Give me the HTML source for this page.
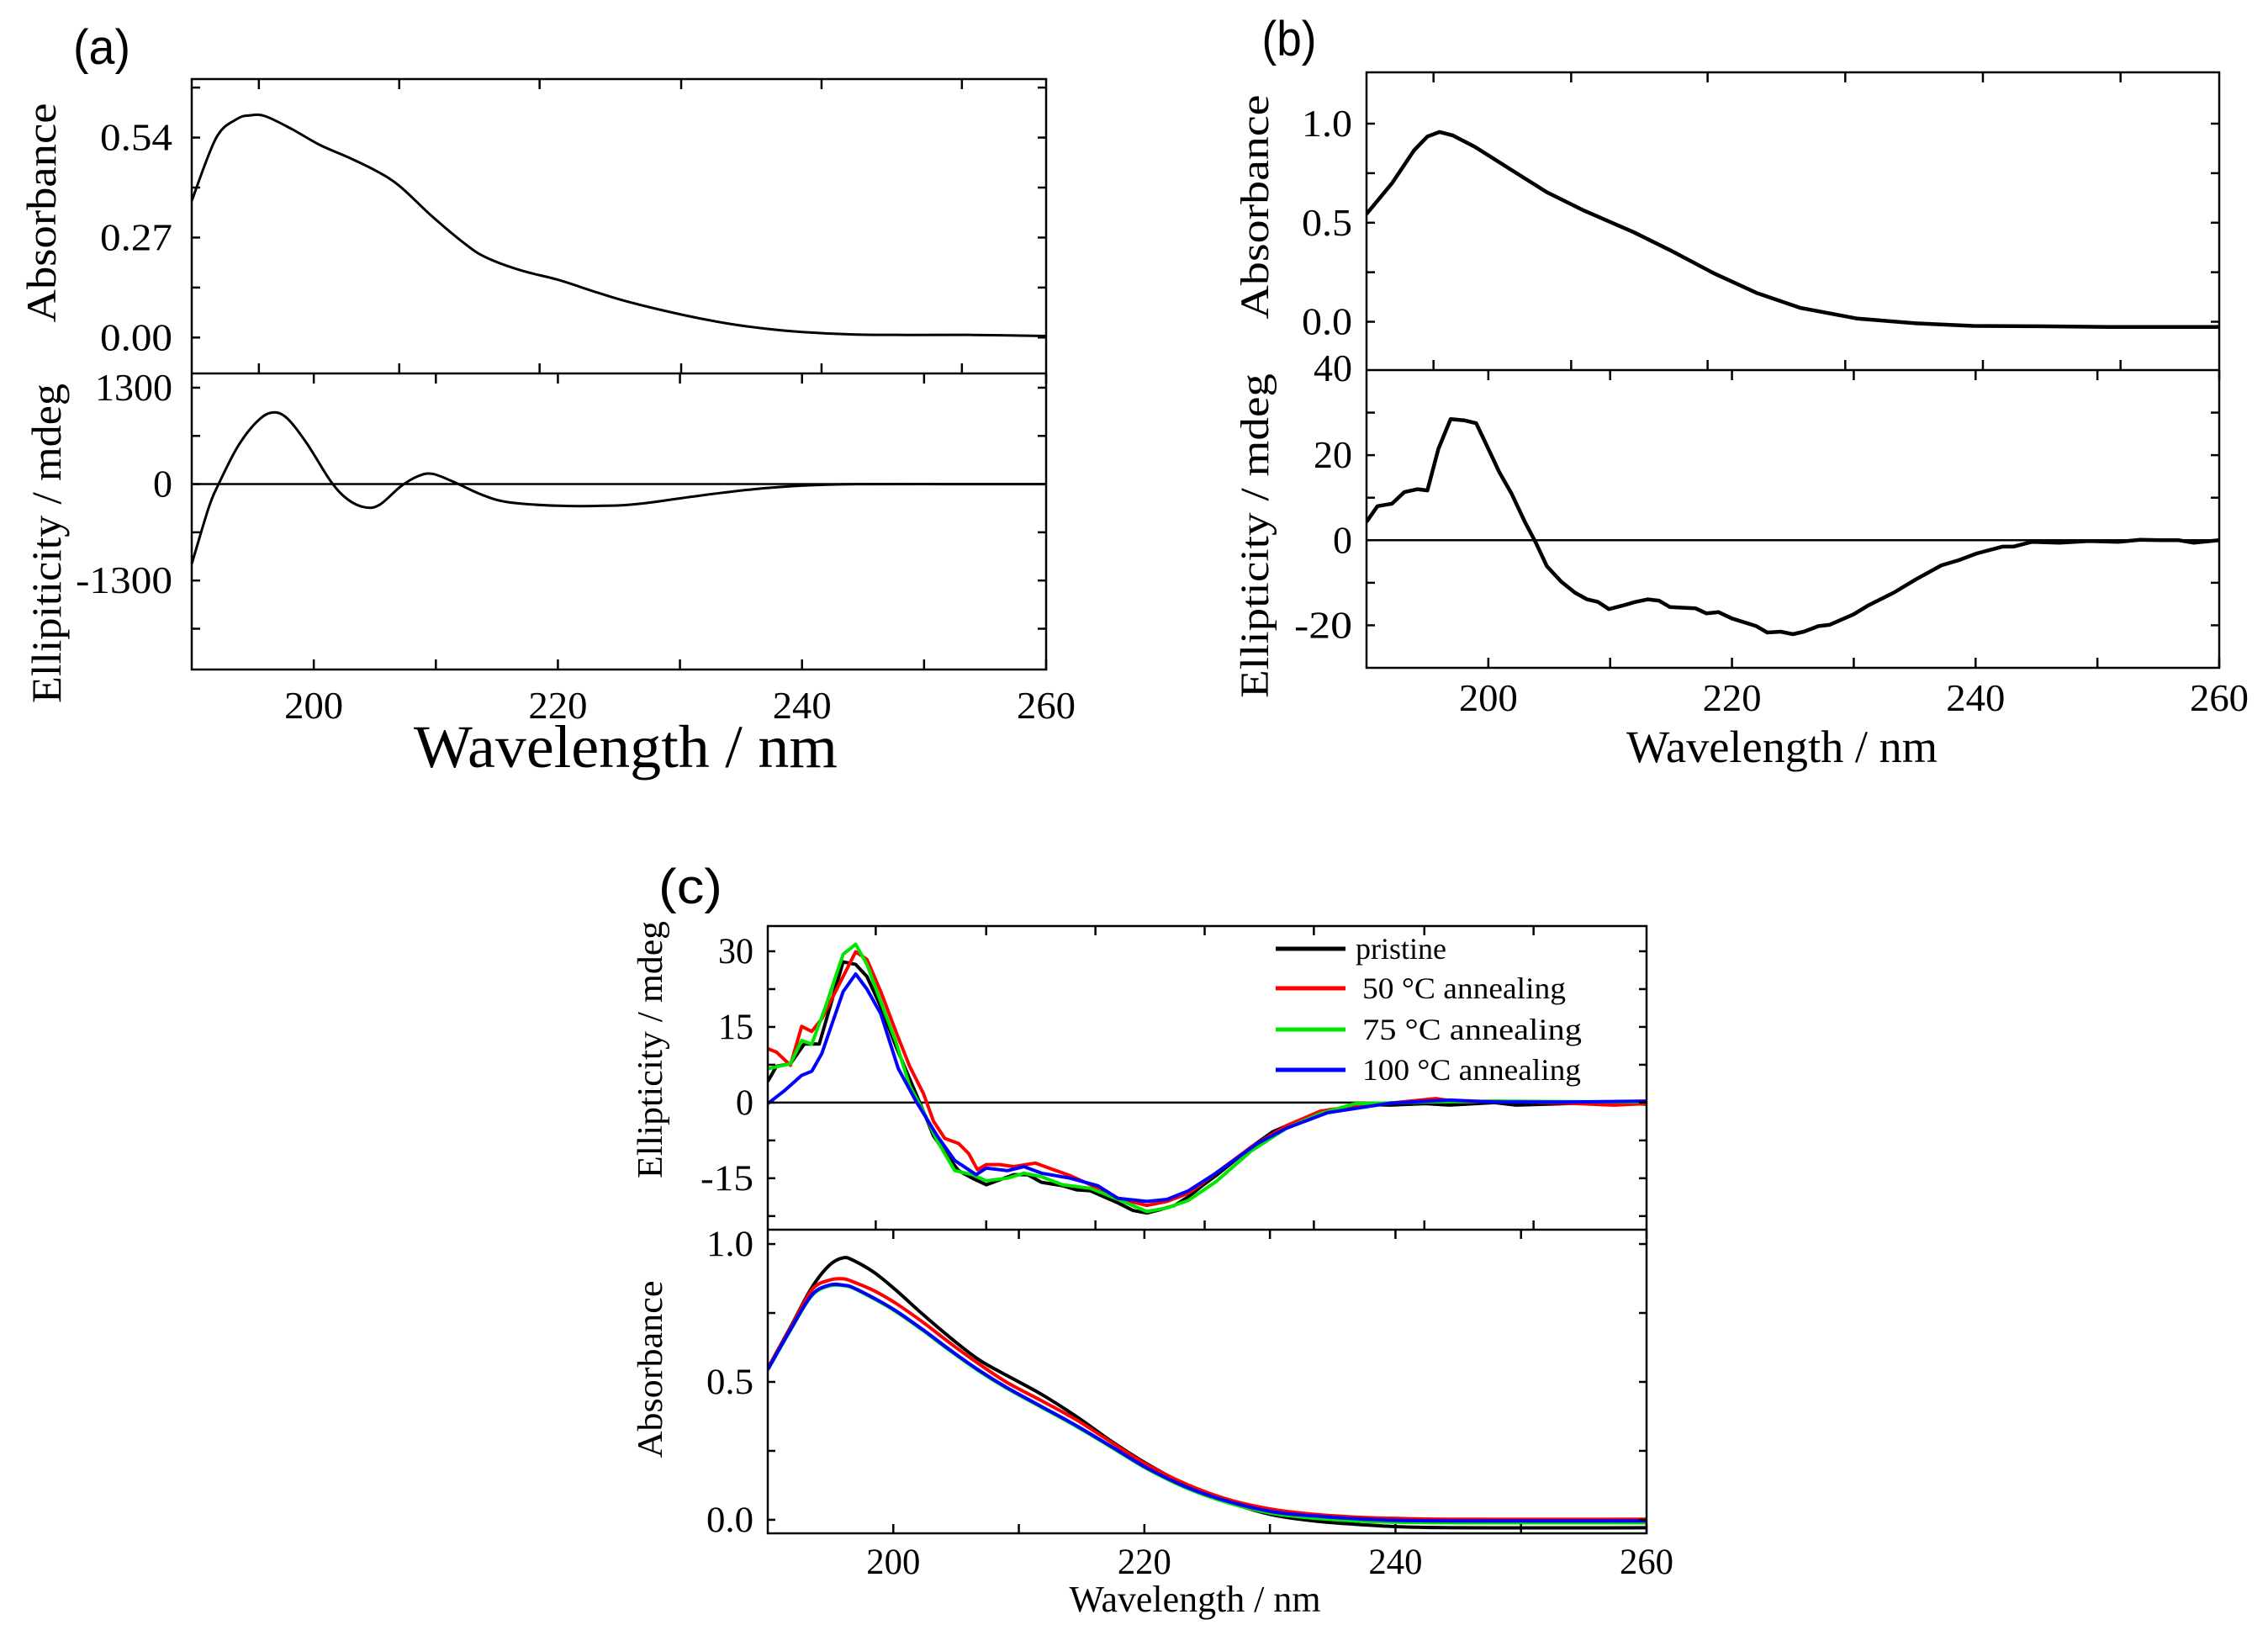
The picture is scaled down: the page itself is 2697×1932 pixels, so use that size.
<!DOCTYPE html>
<html><head><meta charset="utf-8"><style>
html,body{margin:0;padding:0;background:#fff;overflow:hidden;}
svg{display:block;}
</style></head><body>
<svg id="fig" xmlns="http://www.w3.org/2000/svg" width="2697" height="1932" viewBox="0 0 2697 1932"></svg>
<script>
// ---------- data ----------
const aAbsWl=[190,192,193.7,194.8,196,198.2,200.5,202.8,205,207,209.7,212.5,214.2,217,220,222.9,225.7,230,233.7,237,240,244.5,248.6,254,260];
const aAbsVal=[0.369,0.539,0.59,0.60,0.598,0.563,0.52,0.487,0.452,0.41,0.327,0.25,0.215,0.181,0.156,0.125,0.097,0.063,0.039,0.024,0.015,0.008,0.007,0.007,0.004];
const aCdWl=[190,191.4,192.2,193.7,195.1,196.4,197.7,199.4,201.4,202.8,204.2,205.4,207.1,208.5,209.7,211.4,213.7,215.9,220,224,226.8,231.4,236,240,244.5,252,260];
const aCdVal=[-1077,-313,0,487,800,959,904,556,35,-209,-313,-278,-35,104,139,35,-139,-243,-292,-292,-264,-160,-70,-21,0,0,0];

const bAbsWl=[190,192.1,193.9,195,196,197.1,198.9,201.9,204.8,207.8,211.9,214.9,218.5,222,225.6,230.3,235.1,239.8,245.2,251.1,260];
const bAbsVal=[0.544,0.70,0.865,0.935,0.958,0.94,0.883,0.766,0.654,0.5625,0.453,0.362,0.245,0.146,0.070,0.016,-0.008,-0.021,-0.023,-0.026,-0.026];
const bCdWl=[190,190.9,192.1,193.1,194.2,195,195.9,196.9,198,199,200.1,200.9,201.9,203,203.9,204.8,206,207.1,208.1,209,209.9,211.1,212.1,213.1,214,214.9,217,217.9,218.9,220,222,222.9,224,225,225.9,227.1,228,230,231.2,233.3,235.1,237.2,238.6,240.1,242.2,243.1,244.6,246.9,249.3,251.7,253.5,255.2,256.7,257.9,260];
const bCdVal=[4.3,8.0,8.6,11.3,12.0,11.7,21.5,28.5,28.2,27.5,20.9,16.0,11.0,4.3,-0.6,-6.1,-9.8,-12.3,-13.9,-14.5,-16.2,-15.3,-14.5,-13.9,-14.2,-15.7,-16.0,-17.2,-16.9,-18.4,-20.2,-21.7,-21.5,-22.1,-21.5,-20.2,-19.9,-17.4,-15.3,-12.3,-9.2,-5.9,-4.7,-3.1,-1.5,-1.5,-0.4,-0.6,-0.2,-0.4,0.1,0,0,-0.6,0];

const cCdBlackWl=[190,190.7,191.8,192.9,194.1,196,197,197.9,199,200.2,201.3,202.4,203.2,204.3,205.2,206.3,207.4,208.5,209.6,210.7,211.8,213.5,214.6,215.7,216.8,217.9,219.1,220.2,221.3,222.4,223.5,224.6,225.7,226.8,228.5,230.2,231.8,233.5,234.6,236.3,238,239.6,242.4,244.3,247.9,249.6,253.5,256.3,260];
const cCdBlackVal=[4.2,7.2,7.7,11.6,11.6,27.9,27.4,25,19,11.2,4.7,-1.7,-6.6,-10.6,-13.5,-15,-16.3,-15.3,-14.3,-14.3,-15.8,-16.5,-17.3,-17.5,-18.7,-19.9,-21.4,-21.9,-21.2,-20.4,-18.7,-16.5,-14.5,-12.3,-8.8,-5.8,-4.1,-2.5,-1.5,-0.9,-0.4,-0.5,-0.2,-0.5,0,-0.5,-0.2,0,-0.3];
const cCdRedWl=[190,190.7,191.8,192.7,193.5,194.3,196,197,197.9,199,200.2,201.3,202.4,203.2,204.1,205.2,206,206.7,207.4,208.5,209.6,211.3,212.4,214.1,215.7,217.9,220.2,221.8,223.5,225.7,228.5,231.3,234,236.8,239.6,243.2,245.2,247.9,253.5,257.4,260];
const cCdRedVal=[10.7,10,7.4,15.1,14.1,16.6,25,29.9,28.4,22,14.1,7.2,1.8,-3.7,-7.1,-8.1,-10.1,-13.3,-12.3,-12.3,-12.7,-12.0,-13.0,-14.5,-16.3,-19,-20.4,-19.6,-18,-14,-8.8,-4.6,-1.7,-0.7,-0.1,0.8,0.1,0.3,-0.1,-0.5,-0.2];
const cCdGreenWl=[190,191.8,192.7,193.5,194.6,196,197,197.9,199,200.2,201.3,202.4,203.5,204.9,206.3,207.4,209.1,210.4,211.8,213.5,215.7,217.9,220.2,221.8,223.5,225.7,228.5,231.3,234,236.8,242.4,247.9,260];
const cCdGreenVal=[6.7,7.7,12.3,11.6,19,29.4,31.4,27.4,20,12.1,3.3,-1.7,-7.6,-13.5,-14.3,-15.5,-15,-14,-14.7,-16.3,-17,-19.2,-21.6,-20.9,-19.4,-15.7,-9.6,-5.1,-2.2,-0.2,0.1,0.3,0.1];
const cCdBlueWl=[190,191.3,192.7,193.5,194.3,196,197,197.9,199,200.4,201.8,203.5,204.9,206.6,207.4,209.1,210.4,211.8,214.1,216.3,217.9,220.2,221.8,223.5,225.7,227.4,229,231.3,234.6,239.6,244.3,247.9,253.5,260];
const cCdBlueVal=[-0.2,2.3,5.4,6.2,9.7,22,25.5,22.5,17.6,6.7,0.3,-6.6,-11.5,-14.3,-13,-13.5,-12.7,-14,-15,-16.5,-19,-19.6,-19.2,-17.5,-14,-11,-8.1,-5.1,-2,-0.1,0.5,0.1,0.1,0.3];

const cAbsWl=[190,191.8,193.5,194.9,196,196.8,198.5,200.2,202.4,204.6,206.8,209.1,211.8,214.6,217.4,220.2,223.5,226.8,230.2,233.5,236.8,240.2,245.2,260];
const cAbsBlack=[0.55,0.698,0.842,0.923,0.95,0.941,0.896,0.833,0.743,0.658,0.581,0.522,0.455,0.374,0.284,0.203,0.122,0.063,0.018,-0.004,-0.016,-0.025,-0.029,-0.029];
const cAbsRed=[0.55,0.694,0.833,0.869,0.874,0.863,0.83,0.785,0.715,0.638,0.566,0.497,0.432,0.362,0.28,0.2,0.126,0.072,0.038,0.02,0.01,0.005,0.002,0.002];
const cAbsGreen=[0.543,0.687,0.812,0.848,0.849,0.84,0.8,0.755,0.685,0.61,0.54,0.475,0.408,0.338,0.262,0.185,0.112,0.06,0.023,0.006,-0.004,-0.009,-0.011,-0.011];
const cAbsBlue=[0.545,0.689,0.815,0.851,0.851,0.842,0.803,0.758,0.688,0.613,0.543,0.478,0.411,0.341,0.265,0.188,0.116,0.065,0.029,0.014,0.004,-0.002,-0.004,-0.004];

const xTicks=[200,220,240,260];
const xMinor=[210,230,250];

// ---------- helpers ----------
const NS='http://www.w3.org/2000/svg';
const svg=document.getElementById('fig');
function mk(tag,attrs,parent){const e=document.createElementNS(NS,tag);for(const k in attrs)e.setAttribute(k,attrs[k]);(parent||svg).appendChild(e);return e;}
function lin(d0,d1,r0,r1){return v=>r0+(v-d0)*(r1-r0)/(d1-d0);}
function txt(x,y,s,size,anchor,name,opts){opts=opts||{};
  const t=mk('text',{x:x,y:y,'font-size':size,'text-anchor':anchor,'font-family':opts.sans?'"Liberation Sans",sans-serif':'"Liberation Serif",serif',fill:'#000'});
  if(opts.len){t.setAttribute('textLength',opts.len);t.setAttribute('lengthAdjust','spacingAndGlyphs');}
  if(opts.rot){t.setAttribute('transform','rotate(-90 '+x+' '+y+')');}
  
  
  t.textContent=s;return t;}
function pathFrom(xs,ys,X,Y,smooth){
  const p=xs.map((w,i)=>[X(w),Y(ys[i])]);
  if(!smooth)return 'M'+p.map(q=>q[0].toFixed(1)+','+q[1].toFixed(1)).join('L');
  let d='M'+p[0][0]+','+p[0][1];
  for(let i=0;i<p.length-1;i++){const p0=p[i-1]||p[i],p1=p[i],p2=p[i+1],p3=p[i+2]||p2;
    const c1=[p1[0]+(p2[0]-p0[0])/6,p1[1]+(p2[1]-p0[1])/6],c2=[p2[0]-(p3[0]-p1[0])/6,p2[1]-(p3[1]-p1[1])/6];
    d+='C'+c1[0].toFixed(1)+','+c1[1].toFixed(1)+' '+c2[0].toFixed(1)+','+c2[1].toFixed(1)+' '+p2[0].toFixed(1)+','+p2[1].toFixed(1);}
  return d;}
function series(xs,ys,X,Y,color,w,name,smooth,clip){
  const e=mk('path',{d:pathFrom(xs,ys,X,Y,smooth),fill:'none',stroke:color,'stroke-width':w,'stroke-linejoin':'round','clip-path':'url(#'+clip+')'});
  
  
  return e;}
function clipRect(id,x0,y0,x1,y1){const defs=mk('defs',{});const c=mk('clipPath',{id:id},defs);mk('rect',{x:x0,y:y0,width:x1-x0,height:y1-y0},c);}
function frame(x0,y0,x1,y1,sw,name){const r=mk('rect',{x:x0,y:y0,width:x1-x0,height:y1-y0,fill:'none',stroke:'#000','stroke-width':sw});
  
  }
function xt(X,vals,y,len,dir,sw){vals.forEach(v=>{const l=mk('line',{x1:X(v),x2:X(v),y1:y,y2:y+dir*len,stroke:'#000','stroke-width':sw});
  
  });}
function yt(Y,vals,x0,x1,len,sw){vals.forEach(v=>{mk('line',{x1:x0,x2:x0+len,y1:Y(v),y2:Y(v),stroke:'#000','stroke-width':sw});mk('line',{x1:x1,x2:x1-len,y1:Y(v),y2:Y(v),stroke:'#000','stroke-width':sw});});}
function zero(X,Y,sw){const l=mk('line',{x1:X(190),x2:X(260),y1:Y(0),y2:Y(0),stroke:'#000','stroke-width':sw});
  
  }

// ---------- panel (a) ----------
(function(){
  const L=228,R=1244,T=94,M=444,B=796;
  const X=lin(190,260,L,R);
  const Ya=lin(0.698,-0.097,T,M), Yc=lin(1492,-2500,M,B);
  clipRect('ca1',L,T,R,M);clipRect('ca2',L,M,R,B);
  zero(X,Yc,2.5);
  series(aAbsWl,aAbsVal,X,Ya,'#000',3,'a-absorbance-line',true,'ca1');
  series(aCdWl,aCdVal,X,Yc,'#000',3,'a-ellipticity-line',true,'ca2');
  frame(L,T,R,B,2.5,'a-plot-frame');
  mk('line',{x1:L,x2:R,y1:M,y2:M,stroke:'#000','stroke-width':2.5});
  const topT=[195.5,207,218.5,230.1,241.6,253.1];
  xt(X,topT,M,12,-1,2.5);xt(X,topT,T,12,1,2.5);
  xt(X,xTicks.concat(xMinor),B,12,-1,2.5);xt(X,xTicks.concat(xMinor),M,12,1,2.5);
  yt(Ya,[0,0.135,0.27,0.405,0.54,0.675],L,R,10,2.5);
  yt(Yc,[-1950,-1300,-650,0,650,1300],L,R,10,2.5);
  [['0.54',0.54],['0.27',0.27],['0.00',0]].forEach(t=>txt(205,Ya(t[1])+15,t[0],46,'end','a-y-tick-label',{len:86}));
  [['1300',1300],['0',0],['-1300',-1300]].forEach(t=>txt(205,Yc(t[1])+15,t[0],46,'end','a-y2-tick-label',{len:t[0]=='0'?23:(t[0].length==4?92:115)}));
  xTicks.forEach(v=>txt(X(v),854,String(v),46,'middle','a-x-tick-label',{len:70}));
  txt(744,912,'Wavelength / nm',72,'middle','a-x-axis-title',{len:504});
  txt(66,253,'Absorbance',50,'middle','a-y-axis-title',{rot:1,len:261});
  txt(72,646,'Ellipiticity / mdeg',50,'middle','a-y2-axis-title',{rot:1,len:380});
  txt(121,76,'(a)',58,'middle','a-panel-label',{sans:1,len:68});
})();

// ---------- panel (b) ----------
(function(){
  const L=1625,R=2639,T=86,M=440,B=794;
  const X=lin(190,260,L,R);
  const Ya=lin(1.259,-0.244,T,M), Yc=lin(40,-30,M,B);
  clipRect('cb1',L,T,R,M);clipRect('cb2',L,M,R,B);
  zero(X,Yc,2.5);
  series(bAbsWl,bAbsVal,X,Ya,'#000',4.5,'b-absorbance-line',false,'cb1');
  series(bCdWl,bCdVal,X,Yc,'#000',4.5,'b-ellipticity-line',false,'cb2');
  frame(L,T,R,B,2.5,'b-plot-frame');
  mk('line',{x1:L,x2:R,y1:M,y2:M,stroke:'#000','stroke-width':2.5});
  const topT=[195.5,206.8,218,229.3,240.6,251.9];
  xt(X,xTicks.concat(xMinor),B,12,-1,2.5);xt(X,xTicks.concat(xMinor),M,12,1,2.5);
  xt(X,topT,M,12,-1,2.5);xt(X,topT,T,12,1,2.5);
  yt(Ya,[0,0.25,0.5,0.75,1.0],L,R,10,2.5);
  yt(Yc,[-20,-10,0,10,20,30],L,R,10,2.5);
  [['1.0',1],['0.5',0.5],['0.0',0]].forEach(t=>txt(1608,Ya(t[1])+15,t[0],46,'end','b-y-tick-label',{len:60}));
  [['40',40],['20',20],['0',0],['-20',-20]].forEach(t=>txt(1608,Yc(t[1])+(t[1]==40?13:15),t[0],46,'end','b-y2-tick-label',{len:t[0].length*23}));
  xTicks.forEach(v=>txt(X(v),845,String(v),46,'middle','b-x-tick-label',{len:70}));
  txt(2119,906,'Wavelength / nm',54,'middle','b-x-axis-title',{len:370});
  txt(1508,246,'Absorbance',48,'middle','b-y-axis-title',{rot:1,len:267});
  txt(1508,637,'Ellipticity / mdeg',48,'middle','b-y2-axis-title',{rot:1,len:386});
  txt(1533,66,'(b)',58,'middle','b-panel-label',{sans:1,len:65});
})();

// ---------- panel (c) ----------
(function(){
  const L=913,R=1958,T=1101,M=1462,B=1823;
  const X=lin(190,260,L,R);
  const Yc=lin(35,-25.2,T,M), Ya=lin(1.052,-0.049,M,B);
  clipRect('cc1',L,T,R,M);clipRect('cc2',L,M,R,B);
  zero(X,Yc,2.5);
  series(cCdBlackWl,cCdBlackVal,X,Yc,'#000',4,'c-cd-pristine',false,'cc1');
  series(cCdRedWl,cCdRedVal,X,Yc,'#ff0000',4,'c-cd-50c',false,'cc1');
  series(cCdGreenWl,cCdGreenVal,X,Yc,'#00e600',4,'c-cd-75c',false,'cc1');
  series(cCdBlueWl,cCdBlueVal,X,Yc,'#0000ff',4,'c-cd-100c',false,'cc1');
  series(cAbsWl,cAbsBlack,X,Ya,'#000',4,'c-abs-pristine',true,'cc2');
  series(cAbsWl,cAbsGreen,X,Ya,'#00e600',4,'c-abs-75c',true,'cc2');
  series(cAbsWl,cAbsRed,X,Ya,'#ff0000',4,'c-abs-50c',true,'cc2');
  series(cAbsWl,cAbsBlue,X,Ya,'#0000ff',4,'c-abs-100c',true,'cc2');
  frame(L,T,R,B,2.5,'c-plot-frame');
  mk('line',{x1:L,x2:R,y1:M,y2:M,stroke:'#000','stroke-width':2.5});
  const topT=[198.6,207.4,216.1,224.8,233.5,242.3,251];
  xt(X,xTicks.concat(xMinor),B,11,-1,2.5);xt(X,xTicks.concat(xMinor),M,11,1,2.5);
  xt(X,topT,M,11,-1,2.5);xt(X,topT,T,11,1,2.5);
  yt(Yc,[-22.5,-15,-7.5,0,7.5,15,22.5,30],L,R,9,2.5);
  yt(Ya,[0,0.25,0.5,0.75,1.0],L,R,9,2.5);
  [['30',30],['15',15],['0',0],['-15',-15]].forEach(t=>txt(896,Yc(t[1])+14,t[0],43,'end','c-y-tick-label',{len:t[0].length*21}));
  [['1.0',1],['0.5',0.5],['0.0',0]].forEach(t=>txt(896,Ya(t[1])+14,t[0],43,'end','c-y2-tick-label',{len:56}));
  xTicks.forEach(v=>txt(X(v),1871,String(v),43,'middle','c-x-tick-label',{len:64}));
  txt(1421,1916,'Wavelength / nm',44,'middle','c-x-axis-title',{len:299});
  txt(787,1248,'Ellipticity / mdeg',42,'middle','c-y-axis-title',{rot:1,len:306});
  txt(787,1628,'Absorbance',42,'middle','c-y2-axis-title',{rot:1,len:211});
  txt(821,1074,'(c)',58,'middle','c-panel-label',{sans:1,len:76});
  // legend
  const leg=[['pristine','#000',1128,108,1612],['50 °C annealing','#ff0000',1175,242,1620],['75   °C annealing','#00e600',1224,261,1620],['100 °C annealing','#0000ff',1272,260,1620]];
  const g=mk('g',{});
  
  
  leg.forEach(l=>{const ln=mk('line',{x1:1517,x2:1600,y1:l[2],y2:l[2],stroke:l[1],'stroke-width':5},g);
    
    
    const tx=txt(l[4],l[2]+12,l[0],36,'start','legend-entry',{len:l[3]});g.appendChild(tx);});
})();
</script>
</body></html>
